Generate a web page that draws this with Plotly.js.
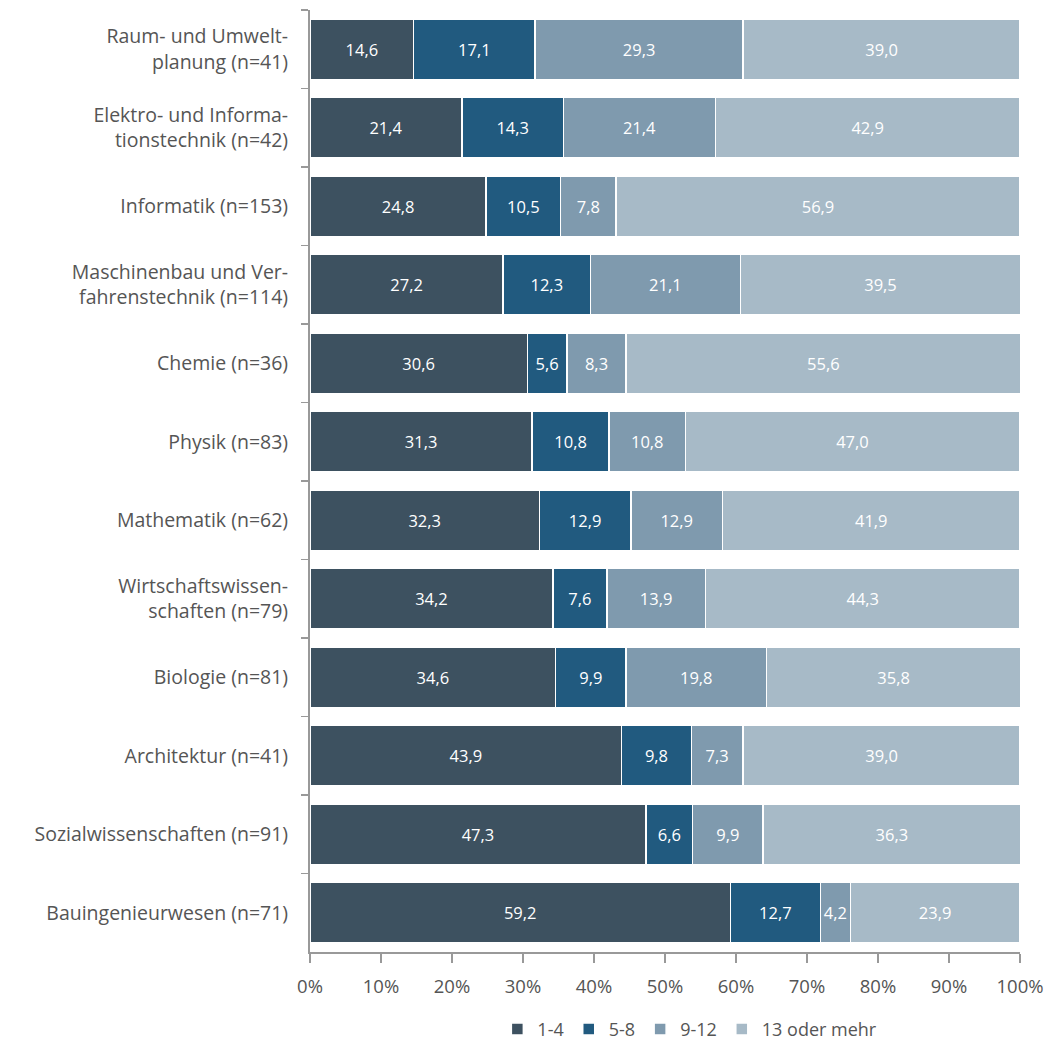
<!DOCTYPE html>
<html><head><meta charset="utf-8">
<script src="https://cdn.plot.ly/plotly-3.0.1.min.js"></script>
<style>html,body{margin:0;padding:0;background:#fff}#chart{width:1055px;height:1044px}</style>
</head><body><div id="chart"></div>
<script>
const categories = [
  "Raum- und Umwelt-<br>planung (n=41)",
  "Elektro- und Informa-<br>tionstechnik (n=42)",
  "Informatik (n=153)",
  "Maschinenbau und Ver-<br>fahrenstechnik (n=114)",
  "Chemie (n=36)",
  "Physik (n=83)",
  "Mathematik (n=62)",
  "Wirtschaftswissen-<br>schaften (n=79)",
  "Biologie (n=81)",
  "Architektur (n=41)",
  "Sozialwissenschaften (n=91)",
  "Bauingenieurwesen (n=71)"
];
const s1_4   = [14.6, 21.4, 24.8, 27.2, 30.6, 31.3, 32.3, 34.2, 34.6, 43.9, 47.3, 59.2];
const s5_8   = [17.1, 14.3, 10.5, 12.3, 5.6, 10.8, 12.9, 7.6, 9.9, 9.8, 6.6, 12.7];
const s9_12  = [29.3, 21.4, 7.8, 21.1, 8.3, 10.8, 12.9, 13.9, 19.8, 7.3, 9.9, 4.2];
const s13    = [39.0, 42.9, 56.9, 39.5, 55.6, 47.0, 41.9, 44.3, 35.8, 39.0, 36.3, 23.9];
const seriesNames = ["1-4", "5-8", "9-12", "13 oder mehr"];
const colors = ["#3d5160", "#215a7f", "#7f9aae", "#a7bac7"];
const tickVals = [0, 10, 20, 30, 40, 50, 60, 70, 80, 90, 100];
const tickText = tickVals.map(v => v + "%");

const font = "'Open Sans', sans-serif";
const data = [s1_4, s5_8, s9_12, s13].map((vals, i) => ({
  type: "bar",
  orientation: "h",
  name: seriesNames[i],
  y: categories,
  x: vals,
  marker: {color: colors[i], line: {color: "#ffffff", width: 1.5}},
  text: vals.map(v => v.toFixed(1).replace(".", ",")),
  textposition: "inside",
  insidetextanchor: "middle",
  constraintext: "none",
  textfont: {color: "#ffffff", size: 16.5, family: font},
  hoverinfo: "x+name"
}));

const layout = {
  width: 1055, height: 1044,
  margin: {l: 310, r: 35, t: 10, b: 92, autoexpand: false},
  barmode: "stack",
  bargap: 0.23,
  showlegend: true,
  legend: {orientation: "h", x: 0.535, xanchor: "center", y: -0.082, yanchor: "middle",
           font: {size: 18, color: "#555555", family: font}, traceorder: "normal",
           itemwidth: 30},
  xaxis: {
    range: [0, 100], tickmode: "array", tickvals: tickVals, ticktext: tickText,
    showgrid: false, zeroline: false, showline: true, linecolor: "#999999", linewidth: 2,
    ticks: "outside", ticklen: 9, tickcolor: "#999999", tickwidth: 1.5,
    ticklabelstandoff: 8,
    tickfont: {size: 18.5, color: "#555555", family: font}, fixedrange: true
  },
  yaxis: {
    autorange: "reversed", type: "category",
    showgrid: false, showline: true, linecolor: "#999999", linewidth: 2,
    ticks: "outside", tickson: "boundaries", ticklen: 7, tickcolor: "#999999", tickwidth: 1.5,
    ticklabelstandoff: 16,
    tickfont: {size: 19.5, color: "#555555", family: font}, fixedrange: true
  },
  paper_bgcolor: "#ffffff", plot_bgcolor: "#ffffff",
  font: {family: font, color: "#555555"}
};
Plotly.newPlot("chart", data, layout, {displayModeBar: false, staticPlot: true});
</script></body></html>
